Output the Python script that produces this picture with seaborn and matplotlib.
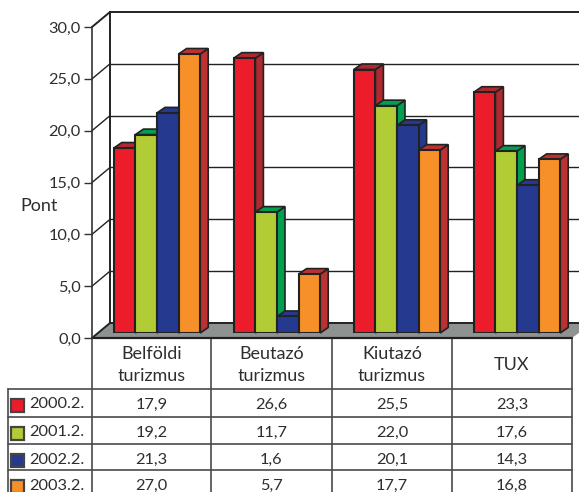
# -*- coding: utf-8 -*-
import matplotlib
matplotlib.use("Agg")
import matplotlib.pyplot as plt
import pandas as pd
import seaborn as sns
from matplotlib.patches import Polygon, Rectangle

categories = ["Belföldi\nturizmus", "Beutazó\nturizmus", "Kiutazó\nturizmus", "TUX"]
periods = ["2000.2.", "2001.2.", "2002.2.", "2003.2."]
v2000 = [17.9, 26.6, 25.5, 23.3]
v2001 = [19.2, 11.7, 22.0, 17.6]
v2002 = [21.3, 1.6, 20.1, 14.3]
v2003 = [27.0, 5.7, 17.7, 16.8]
y_ticks = [0, 5, 10, 15, 20, 25, 30]

front_cols = ["#ED1C2A", "#B2CC36", "#25398F", "#F8902A"]
side_cols = ["#B02830", "#00A04E", "#25398F", "#BC3232"]
INK = "#2E2E2E"
W, H = 579, 492

sns.set_theme(style="white")
plt.rcParams["font.family"] = ["Lato", "DejaVu Sans"]
fs = 13
num_fs = 11.8


def comma(v):
    return f"{v:.1f}".replace(".", ",")


def box(left, top, right, bottom):
    return [left / W, 1 - bottom / H, (right - left) / W, (bottom - top) / H]


df = pd.DataFrame({"cat": categories * 4,
                   "period": [p for p in periods for _ in categories],
                   "val": v2000 + v2001 + v2002 + v2003})

fig = plt.figure(figsize=(W / 100, H / 100), dpi=100)

# page axes in pixels, for the table
page = fig.add_axes([0, 0, 1, 1], zorder=0)
page.set_xlim(0, W)
page.set_ylim(H, 0)
page.axis("off")

# side wall, floor and back wall
wall = fig.add_axes(box(92, 27, W, 338), zorder=1)
wall.patch.set_alpha(0)
wall.set_xlim(0, W - 92)
wall.set_ylim(0, 30)
unit = 311 / 30
dx, dy = 18, 15 / unit
wall.add_patch(Polygon([(0, 0), (dx, dy), (W - 92, dy), (W - 92, 0.5), (480, 0)],
                       closed=True, fc="#8E9291", ec="none", clip_on=False))
for t in y_ticks:
    lw = 1.4 if t in (0, 30) else 1.0
    wall.plot([0, dx], [t, t + dy], color="#222222", lw=lw, clip_on=False)
    wall.plot([dx, W - 92], [t + dy, t + dy], color="#222222", lw=lw, clip_on=False)
wall.plot([dx, dx], [dy, 30 + dy], color="#222222", lw=1.4, clip_on=False)
wall.plot([0, 480], [0, 0], color="#222222", lw=1.6, clip_on=False)
wall.set_yticks(y_ticks, [comma(t) for t in y_ticks], fontsize=num_fs, color=INK)
wall.set_xticks([])
for s in ["top", "right", "bottom"]:
    wall.spines[s].set_visible(False)
wall.spines["left"].set_color("#333333")
wall.spines["left"].set_linewidth(1.2)
wall.tick_params(axis="y", left=True, length=6, width=1.0, color="#333333", pad=2)
wall.set_ylabel("Pont", rotation=0, fontsize=fs, color=INK, va="center", ha="center")
wall.yaxis.set_label_coords(-53 / (W - 92), 132 / 311)

# bars
ax = fig.add_axes(box(97, 23, 577, 333), zorder=2)
ax.patch.set_alpha(0)
sns.barplot(data=df, x="cat", y="val", hue="period", hue_order=periods,
            palette=front_cols, saturation=1, width=0.72, gap=0, dodge=True,
            edgecolor="#222222", linewidth=1.5, legend=False, ax=ax)
ax.set_xlim(-0.5, 3.5)
ax.set_ylim(0, 30)
ax.axis("off")

ox, oy = 8 / 120, 5.5 / (310 / 30)
for k, cont in enumerate(ax.containers):
    for bar in cont:
        x0, x1 = bar.get_x(), bar.get_x() + bar.get_width()
        h = bar.get_height()
        z = 3 + x0
        bar.set_zorder(z + 0.02)
        ax.add_patch(Polygon([(x1, 0), (x1 + ox, oy), (x1 + ox, h + oy), (x1, h)], closed=True,
                             fc=side_cols[k], ec="#222222", lw=1.2, zorder=z, clip_on=False))
        ax.add_patch(Polygon([(x0, h), (x0 + ox, h + oy), (x1 + ox, h + oy), (x1, h)], closed=True,
                             fc=side_cols[k], ec="#222222", lw=1.2, zorder=z + 0.01, clip_on=False))

# data table
col_x = [92, 211, 332, 452, 572]
row_y = [338, 389, 417, 444, 470]
line = dict(color="#4A4A4A", lw=1.2, clip_on=True)
for x in col_x:
    page.plot([x, x], [338, H], **line)
page.plot([8, 8], [389, H], **line)
for y in row_y[1:]:
    page.plot([8, 572], [y, y], **line)

for i, c in enumerate(categories):
    cx = (col_x[i] + col_x[i + 1]) / 2
    page.text(cx, 365, c, ha="center", va="center", fontsize=fs, color=INK, linespacing=1.4)

series = [v2000, v2001, v2002, v2003]
for r, p in enumerate(periods):
    top = row_y[r + 1]
    mid = top + 15.5
    page.add_patch(Rectangle((10.5, top + 10), 13, 13, fc=front_cols[r], ec="#444444", lw=1.6))
    page.text(29, mid, p, va="center", fontsize=num_fs, color=INK)
    for i, v in enumerate(series[r]):
        cx = (col_x[i] + col_x[i + 1]) / 2
        page.text(cx, mid, comma(v), ha="center", va="center", fontsize=num_fs, color=INK)

fig.savefig("out.png", dpi=100)
